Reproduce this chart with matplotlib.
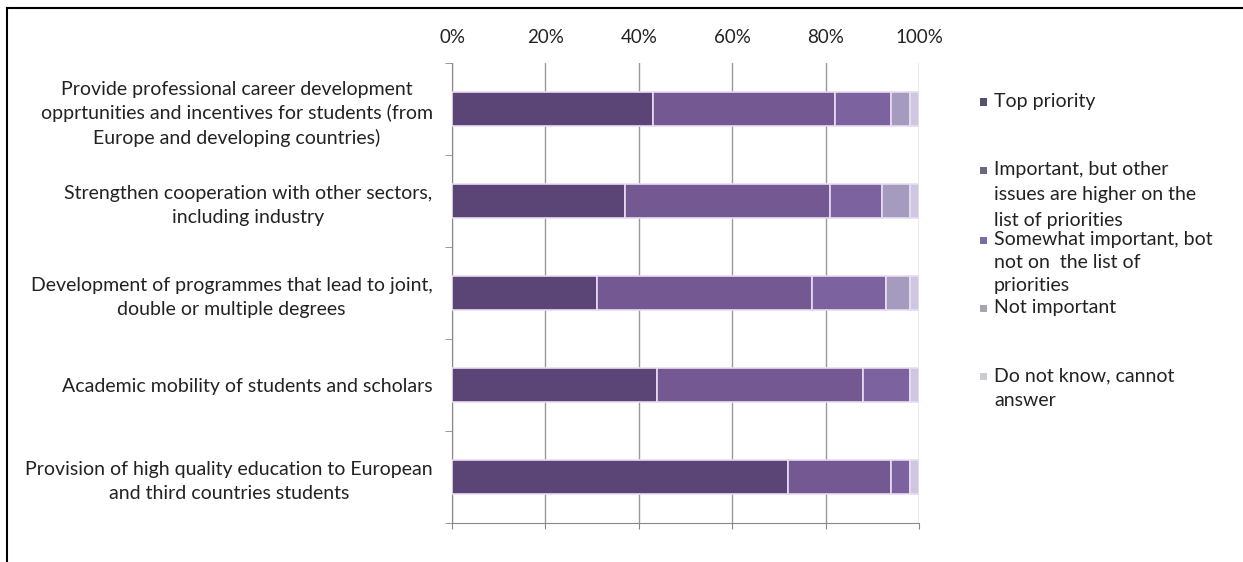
import matplotlib
matplotlib.use("Agg")
import matplotlib.pyplot as plt
from matplotlib.lines import Line2D
from matplotlib.patches import Rectangle
import numpy as np

plt.rcParams['font.family'] = ['Lato', 'DejaVu Sans']

categories = [
    "Provide professional career development\nopprtunities and incentives for students (from\nEurope and developing countries)",
    "Strengthen cooperation with other sectors,\nincluding industry",
    "Development of programmes that lead to joint,\ndouble or multiple degrees",
    "Academic mobility of students and scholars",
    "Provision of high quality education to European\nand third countries students",
]

series_names = [
    "Top priority",
    "Important, but other\nissues are higher on the\nlist of priorities",
    "Somewhat important, bot\nnot on  the list of\npriorities",
    "Not important",
    "Do not know, cannot\nanswer",
]

top_priority = [43, 37, 31, 44, 72]
important = [39, 44, 46, 44, 22]
somewhat = [12, 11, 16, 10, 4]
not_important = [4, 6, 5, 0, 0]
do_not_know = [2, 2, 2, 2, 2]

x_ticks = [0, 20, 40, 60, 80, 100]
x_tick_labels = ["0%", "20%", "40%", "60%", "80%", "100%"]

colors = ["#5b4577", "#735891", "#7d62a0", "#a59bbe", "#cfc6e0"]
marker_colors = ["#55506f", "#6e6680", "#7a6c9e", "#a8a5b0", "#cdcbd2"]

TEXT = "#222222"
FS = 14

W, H = 1243, 562
fig = plt.figure(figsize=(W / 100, H / 100), dpi=100)
ax = fig.add_axes([452 / W, 1 - 523 / H, (919 - 452) / W, (523 - 63) / H])

values = [top_priority, important, somewhat, not_important, do_not_know]
ypos = np.arange(len(categories))
left = np.zeros(len(categories))
for vals, col in zip(values, colors):
    v = np.array(vals, dtype=float)
    ax.barh(ypos, v, left=left, height=0.38, color=col,
            edgecolor="#e9dcf3", linewidth=1.2, zorder=3)
    left += v

ax.set_xlim(0, 100)
ax.set_ylim(len(categories) - 0.5, -0.5)

# percent labels along the top, tick marks on the bottom spine
ax.set_xticks(x_ticks)
ax.set_xticklabels(x_tick_labels)
ax.tick_params(axis="x", which="major", direction="out", length=4,
               color="#888888", bottom=True, top=False,
               labelbottom=False, labeltop=True, pad=8,
               labelsize=13.5, labelcolor=TEXT)
ax.grid(axis="x", color="#9a9a9a", linewidth=1.0, zorder=0)

# category labels with boundary ticks on the left
ax.set_yticks(ypos)
ax.set_yticklabels(categories, fontsize=FS, color=TEXT,
                   multialignment="center", linespacing=1.45)
ax.tick_params(axis="y", which="major", length=0, pad=14)
ax.set_yticks(np.arange(-0.5, len(categories)), minor=True)
ax.tick_params(axis="y", which="minor", length=5, color="#888888")

for s in ["top", "right"]:
    ax.spines[s].set_visible(False)
ax.spines["left"].set_color("#888888")
ax.spines["bottom"].set_color("#888888")

# legend entries placed down the right side
legend_y = [102, 170, 240, 308, 376]
line_h = [25, 25, 23, 25, 25]
for name, col, y0, lh in zip(series_names, marker_colors, legend_y, line_h):
    fig.patches.append(Rectangle(((983 - 3.5) / W, 1 - (y0 + 3.5) / H),
                                 7 / W, 7 / H, transform=fig.transFigure,
                                 facecolor=col, edgecolor="none"))
    for i, line in enumerate(name.split("\n")):
        fig.text(994 / W, 1 - (y0 + i * lh) / H, line, fontsize=FS,
                 color=TEXT, ha="left", va="center")

# frame lines along the top and left edges
fig.add_artist(Line2D([7 / W, 1], [1 - 8 / H, 1 - 8 / H],
                      transform=fig.transFigure, color="black", linewidth=1.5))
fig.add_artist(Line2D([7 / W, 7 / W], [0, 1 - 8 / H],
                      transform=fig.transFigure, color="black", linewidth=1.5))

fig.savefig("out.png", dpi=100)
